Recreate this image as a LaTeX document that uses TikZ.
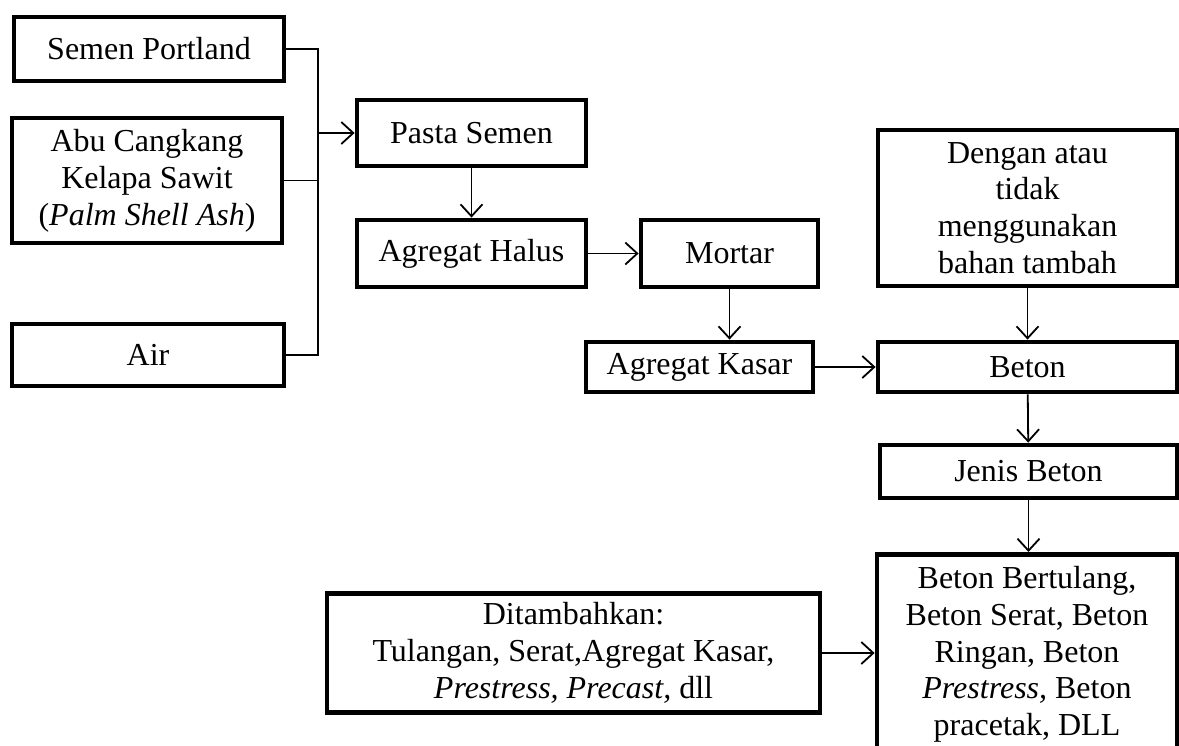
\documentclass[tikz,border=0pt]{standalone}
\usepackage{fontspec}
\setmainfont{Liberation Serif}
\usepackage{tikz}
\usetikzlibrary{arrows.meta,positioning}
\tikzset{
  block/.style={draw,line width=2.4pt,rectangle,align=center,inner sep=2pt,font=\fontsize{16}{18.4}\selectfont},
  arrow/.style={-{Straight Barb[length=6pt,width=11pt]},line width=0.9pt},
  bus/.style={line width=0.9pt}
}
\begin{document}
\begin{tikzpicture}[x=0.5pt,y=-0.5pt]
\clip (0,0) rectangle (1179,745);
% bahan penyusun
\node[block,minimum width=135pt,minimum height=32pt] (semen) at (149,49) {Semen Portland};
\node[block,minimum width=135pt,minimum height=62.5pt] (abu) at (147,180.5) {Abu Cangkang\\Kelapa Sawit\\(\textit{Palm Shell Ash})};
\node[block,minimum width=136pt,minimum height=31pt] (air) at (148,355) {Air};
\coordinate (bus) at (318,133);
\draw[bus] (semen.east) -- (bus |- semen.east) -- (bus |- air.east) -- (air.east);
\draw[bus] (abu.east) -- (bus |- abu.east);

% alur campuran
\node[block,minimum width=114.5pt,minimum height=33pt] (pasta) at (471.5,133) {Pasta Semen};
\node[block,minimum width=114.5pt,minimum height=33.5pt] (halus) at (471.5,253.5) {Agregat Halus};
\node[block,minimum width=88.5pt,minimum height=33.5pt] (mortar) at (729.5,253.5) {Mortar};
\node[block,minimum width=113.5pt,minimum height=25pt] (kasar) at (699.5,367) {Agregat Kasar};
\node[block,minimum width=149.5pt,minimum height=78pt] (dengan) at (1027.5,208) {Dengan atau\\tidak\\menggunakan\\bahan tambah};
\node[block,minimum width=149.5pt,minimum height=25pt] (beton) at (1027.5,367) {Beton};
\node[block,minimum width=148.5pt,minimum height=26.5pt] (jenis) at (1028.5,471.5) {Jenis Beton};
\node[block,minimum width=150pt,minimum height=100pt,anchor=north] (ragam) at (1027,552) {Beton Bertulang,\\Beton Serat, Beton\\Ringan, Beton\\\textit{Prestress,} Beton\\pracetak, DLL};
\node[block,minimum width=246.5pt,minimum height=59.5pt] (tambah) at (573.5,653) {Ditambahkan:\\Tulangan, Serat,Agregat Kasar,\\\textit{Prestress, Precast,} dll};

\draw[arrow] (bus) -- (pasta.west);
\draw[arrow] (pasta) -- (halus);
\draw[arrow] (halus) -- (mortar);
\draw[arrow] (mortar.south) -- (mortar.south |- kasar.north);
\draw[arrow] (kasar) -- (beton);
\draw[arrow] (dengan.south) -- (dengan.south |- beton.north);
\draw[arrow] (beton) -- (jenis);
\draw[arrow] (jenis.south) -- (jenis.south |- ragam.north);
\draw[arrow] (tambah.east) -- (ragam.west |- tambah.east);
\end{tikzpicture}
\end{document}
